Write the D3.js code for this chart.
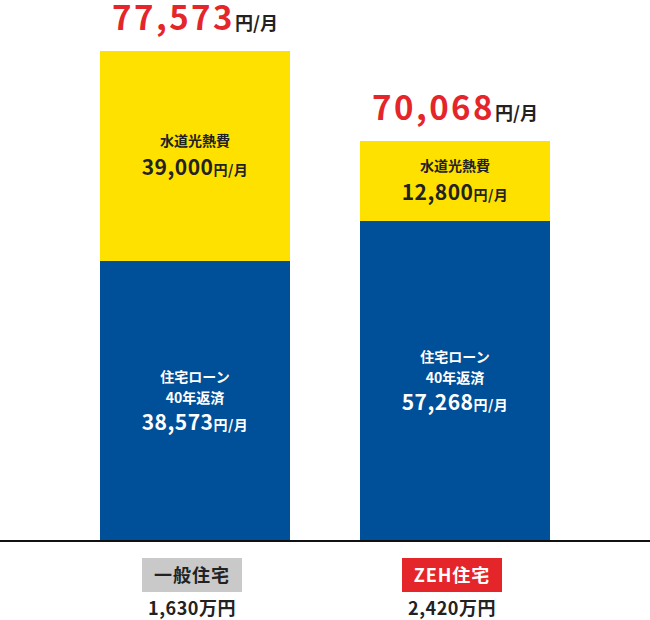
<!DOCTYPE html>
<html lang="ja">
  <head>
    <meta charset="utf-8">
    <title>一般住宅 vs ZEH住宅</title>
    <script src="https://cdn.jsdelivr.net/npm/d3@7"></script>
    <style>
      body { margin: 0; background: #fff; }
      text { font-family: "Noto Sans CJK JP", "Noto Sans", sans-serif; font-weight: 700; }
    </style>
  </head>
  <body>
    <script>
      const WIDTH = 650;
      const HEIGHT = 620;
      const BASE_Y = 540; // baseline of the bars

      // data
      const categories = ["一般住宅", "ZEH住宅"];
      const loan = [38573, 57268];        // 住宅ローン 40年返済 (円/月)
      const utility = [39000, 12800];     // 水道光熱費 (円/月)
      const prices = ["1,630万円", "2,420万円"];
      const loanLabel = ["住宅ローン", "40年返済"];
      const utilityLabel = ["水道光熱費"];

      const YELLOW = "#ffe100";
      const BLUE = "#004f99";
      const RED = "#e4262b";
      const INK = "#222";

      const fmt = d3.format(",");

      var totals = categories.map((c, i) => loan[i] + utility[i]);

      var svg = d3.select("body").append("svg")
        .attr("width", WIDTH)
        .attr("height", HEIGHT);

      var x = d3.scaleBand()
        .domain(categories)
        .range([100, 550])
        .paddingInner(70 / 260)
        .paddingOuter(0);

      // the original is not drawn to scale, so the y scale is piecewise
      // (one stop per stacked value boundary, in ascending order)
      var stops = [0].concat(loan, totals).sort(d3.ascending);
      var y = d3.scaleLinear()
        .domain(stops)
        .range([BASE_Y, 261, 221, 141, 51]);

      var rows = categories.map((c, i) => ({
        cat: c, loan: loan[i], utility: utility[i], total: totals[i], price: prices[i], i: i
      }));

      var g = svg.selectAll("g.bar").data(rows).enter().append("g")
        .attr("class", "bar");

      // blue part (loan)
      g.append("rect")
        .attr("x", d => x(d.cat))
        .attr("width", x.bandwidth())
        .attr("y", d => y(d.loan))
        .attr("height", d => y(0) - y(d.loan))
        .attr("fill", BLUE);

      // yellow part (utilities)
      g.append("rect")
        .attr("x", d => x(d.cat))
        .attr("width", x.bandwidth())
        .attr("y", d => y(d.total))
        .attr("height", d => y(d.loan) - y(d.total))
        .attr("fill", YELLOW);

      var cx = d => x(d.cat) + x.bandwidth() / 2;

      function valueText(sel, ty, value, size, unitSize, color) {
        var t = sel.append("text")
          .attr("x", cx)
          .attr("y", ty)
          .attr("text-anchor", "middle")
          .attr("fill", color)
          .attr("letter-spacing", 0.5);
        t.append("tspan").attr("font-size", size).text(value);
        t.append("tspan").attr("font-size", unitSize).text("円/月");
        return t;
      }

      // labels inside utility segment
      var uMid = d => (y(d.loan) + y(d.total)) / 2;
      g.append("text")
        .attr("x", cx)
        .attr("y", d => uMid(d) - 10)
        .attr("text-anchor", "middle")
        .attr("font-size", 14)
        .attr("fill", INK)
        .text(utilityLabel[0]);
      valueText(g, d => uMid(d) + 19, d => fmt(d.utility), 21, 14, INK);

      // labels inside loan segment
      var lMid = d => (y(0) + y(d.loan)) / 2;
      loanLabel.forEach(function(lbl, k) {
        g.append("text")
          .attr("x", cx)
          .attr("y", d => lMid(d) - 19 + k * 21)
          .attr("text-anchor", "middle")
          .attr("font-size", 14)
          .attr("fill", "#fff")
          .text(lbl);
      });
      valueText(g, d => lMid(d) + 29, d => fmt(d.loan), 21, 14, "#fff");

      // total above bar
      var tot = g.append("text")
        .attr("x", cx)
        .attr("y", d => y(d.total) - 21)
        .attr("text-anchor", "middle");
      tot.append("tspan").attr("font-size", 33).attr("letter-spacing", 2.5)
        .attr("fill", RED).text(d => fmt(d.total));
      tot.append("tspan").attr("font-size", 18).attr("fill", INK).text("円/月");

      // baseline
      svg.append("line")
        .attr("x1", 0).attr("x2", WIDTH)
        .attr("y1", BASE_Y + 1).attr("y2", BASE_Y + 1)
        .attr("stroke", "#111")
        .attr("stroke-width", 2);

      // category tags
      g.append("rect")
        .attr("x", d => cx(d) - 53)
        .attr("y", 558)
        .attr("width", 100)
        .attr("height", 34)
        .attr("fill", d => d.i === 0 ? "#c9c9c9" : RED);
      g.append("text")
        .attr("x", d => cx(d) - 3)
        .attr("y", 582)
        .attr("text-anchor", "middle")
        .attr("font-size", 18)
        .attr("letter-spacing", 1)
        .attr("fill", d => d.i === 0 ? INK : "#fff")
        .text(d => d.cat);

      // house price
      g.append("text")
        .attr("x", d => cx(d) - 3)
        .attr("y", 615)
        .attr("text-anchor", "middle")
        .attr("font-size", 18)
        .attr("letter-spacing", 0.5)
        .attr("fill", INK)
        .text(d => d.price);
    </script>
  </body>
</html>
